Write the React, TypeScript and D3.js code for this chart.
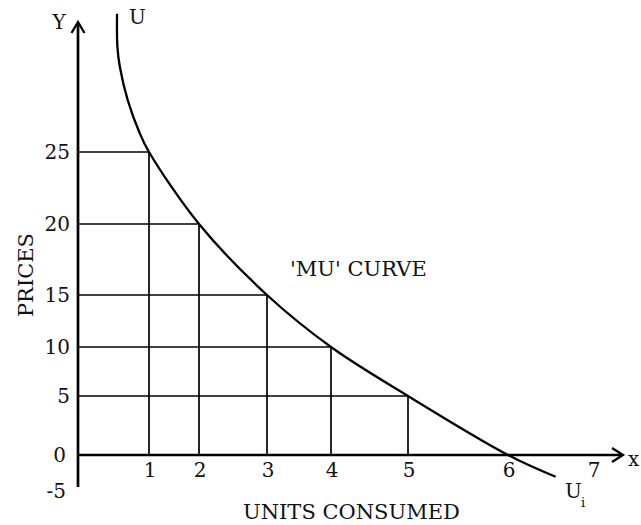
import React from "react";
import * as d3 from "d3";

// Data
const unitTicks = [0, 1, 2, 3, 4, 5, 6, 7];
const priceTicks = [-5, 0, 5, 10, 15, 20, 25];
const stepUnits = [1, 2, 3, 4, 5];
const stepPrices = [25, 20, 15, 10, 5];
const curveUnits = [0.55, 0.555, 0.59, 0.7, 0.87, 1, 2, 3, 4, 5, 6, 6.56];
const curvePrices = [34.6, 32.3, 30.9, 28.6, 26.3, 25, 20, 15, 10, 5, 0, -3.4];
const xLabels = ["1", "2", "3", "4", "5", "6", "7"];
const yLabels = ["-5", "0", "5", "10", "15", "20", "25"];

const W = 641;
const H = 525;
const FONT = "'DejaVu Serif', 'Liberation Serif', serif";

export default function App() {
  // The drawing's axes are hand-drawn, so the scales are piecewise linear.
  const x = d3.scaleLinear().domain(unitTicks).range([78, 149, 199, 267, 331, 408, 508, 593]);
  const y = d3.scaleLinear().domain(priceTicks).range([487, 455, 396, 347, 295, 224, 152]);

  const pts = curveUnits.map((u, i) => [x(u), y(curvePrices[i])] as [number, number]);
  const line = d3.line().curve(d3.curveCatmullRom.alpha(0.5));
  const curvePath = line(pts) || "";

  const x0 = x(0);
  const y0 = y(0);
  const xEnd = 623;
  const yTop = 22;

  return (
    <svg width={W} height={H} style={{ position: "absolute", left: 0, top: 0, background: "#fff" }}>
      <rect x={0} y={0} width={W} height={H} fill="#fff" />
      {/* step lines */}
      {stepUnits.map((u, i) => (
        <g key={"s" + i} stroke="#000" strokeWidth={1.7}>
          <line x1={x0} x2={x(u)} y1={y(stepPrices[i])} y2={y(stepPrices[i])} />
          <line x1={x(u)} x2={x(u)} y1={y(stepPrices[i])} y2={y0} />
        </g>
      ))}
      {/* axes */}
      <line x1={x0} x2={x0} y1={yTop + 1} y2={y(-5)} stroke="#000" strokeWidth={2.7} />
      <line x1={x0} x2={xEnd - 1} y1={y0} y2={y0} stroke="#000" strokeWidth={2.3} />
      <polyline points={`${x0 - 6.5},${yTop + 11} ${x0},${yTop} ${x0 + 6.5},${yTop + 11}`} fill="none" stroke="#000" strokeWidth={2.3} />
      <polyline points={`${xEnd - 11},${y0 - 7} ${xEnd},${y0} ${xEnd - 11},${y0 + 7}`} fill="none" stroke="#000" strokeWidth={2.3} />
      {/* curve */}
      <path d={curvePath} fill="none" stroke="#000" strokeWidth={2.3} />
      {/* tick labels */}
      <g fontFamily={FONT} fontSize={20} fill="#111">
        {priceTicks.map((p, i) => (
          <text key={"y" + i} x={p <= 0 ? 66 : 70} y={y(p) + (p < 0 ? 4 : 0)} textAnchor="end" dominantBaseline="central">
            {yLabels[i]}
          </text>
        ))}
        {unitTicks.slice(1).map((u, i) => (
          <text key={"x" + i} x={x(u) + 1} y={y0 + 22} textAnchor="middle">
            {xLabels[i]}
          </text>
        ))}
      </g>
      {/* labels */}
      <g fontFamily={FONT} fontSize={21} fill="#111">
        <text x={59} y={29} textAnchor="middle" fontSize={20}>Y</text>
        <text x={129} y={24} fontSize={20}>U</text>
        <text x={628} y={466} fontSize={20}>x</text>
        <text x={565} y={498} fontSize={20}>U</text>
        <text x={581} y={507} fontSize={13}>i</text>
        <text x={290} y={276}>'MU' CURVE</text>
        <text x={243} y={519}>UNITS CONSUMED</text>
        <text transform="translate(33,275) rotate(-90)" textAnchor="middle">PRICES</text>
      </g>
    </svg>
  );
}
